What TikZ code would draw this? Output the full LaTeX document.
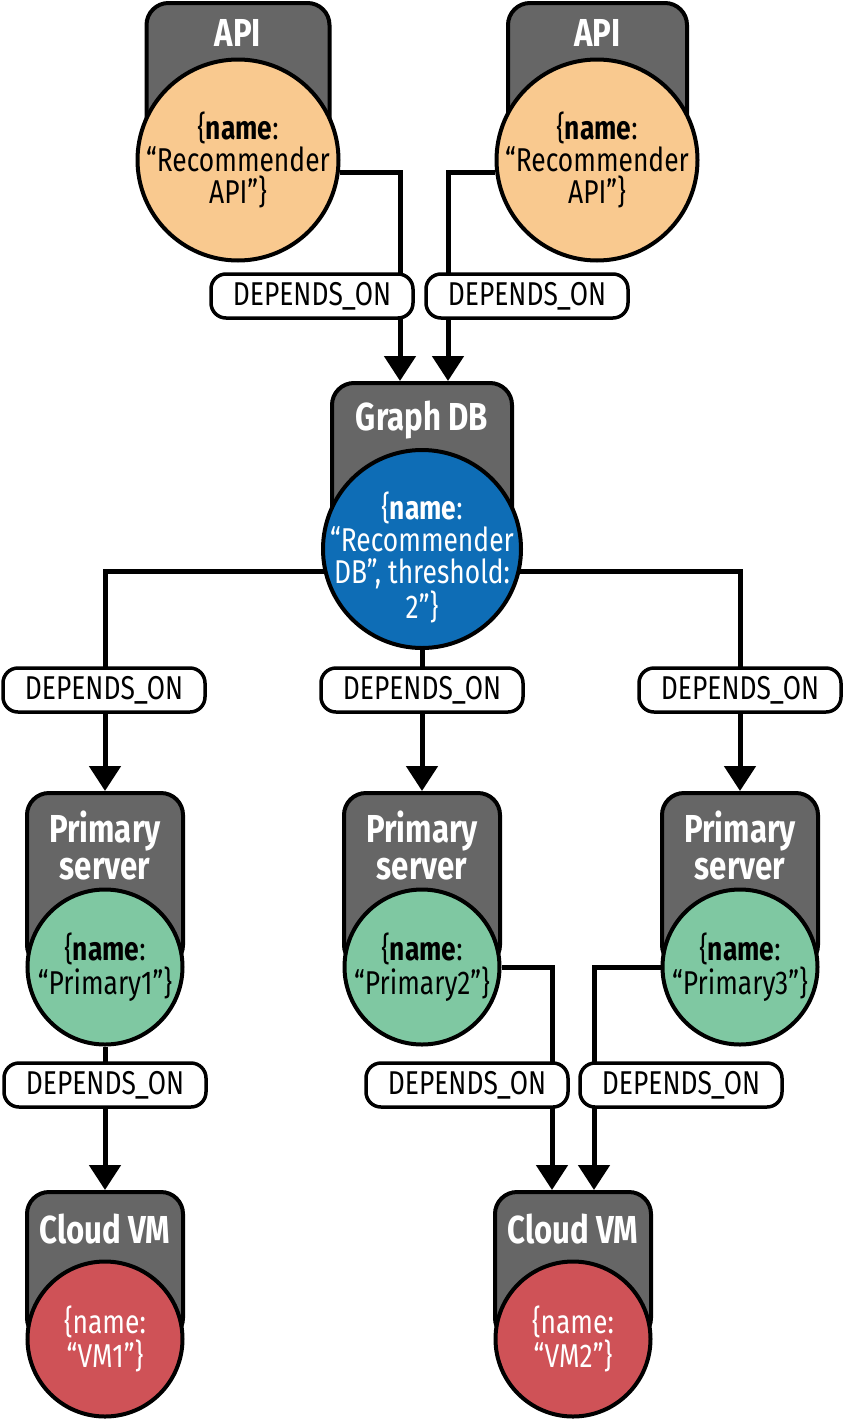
\documentclass[tikz,border=0pt]{standalone}
\usepackage{fontspec}
\setmainfont{Fira Sans}[FakeStretch=0.8]
\usetikzlibrary{arrows.meta,positioning}

\definecolor{boxgray}{HTML}{666666}
\definecolor{apiorange}{HTML}{F9C98F}
\definecolor{dbblue}{HTML}{0E6DB6}
\definecolor{srvgreen}{HTML}{7FC8A2}
\definecolor{vmred}{HTML}{CF5257}

\tikzset{
  kindbox/.style={draw, line width=2pt, fill=boxgray, rounded corners=11pt, inner sep=0pt},
  kindtitle/.style={text=white, align=center, inner sep=0pt, font=\fontsize{19.5pt}{18.5pt}\selectfont\bfseries},
  prop/.style={circle, draw, line width=2pt, inner sep=-10pt, align=center, font=\fontsize{16.5pt}{16pt}\selectfont},
  deplabel/.style={draw, fill=white, line width=1.75pt, rounded corners=7.5pt, minimum width=101pt, minimum height=22pt, inner sep=0pt, font=\fontsize{16.5pt}{16pt}\selectfont},
  dep/.style={line width=2.5pt, -{Triangle[length=12.5pt,width=15.5pt]}}
}

\begin{document}
\begin{tikzpicture}[x=0.5pt, y=-0.5pt]
  \useasboundingbox (0,0) rectangle (843,1419);

  % APIs
  \node[kindbox, minimum width=91.5pt, minimum height=78.5pt] (api1box) at (238,81.5) {};
  \node[kindtitle, anchor=base] (api1title) at (238,46) {API};
  \node[prop, fill=apiorange, minimum size=100.5pt] (api1) at (238,160) {\{\textbf{name}:\\“Recommender\\API”\}};
  \node[kindbox, minimum width=89.5pt, minimum height=78.5pt] (api2box) at (597.5,81.5) {};
  \node[kindtitle, anchor=base] (api2title) at (597.5,46) {API};
  \node[prop, fill=apiorange, minimum size=100.5pt] (api2) at (597,160) {\{\textbf{name}:\\“Recommender\\API”\}};

  % graph db
  \node[kindbox, minimum width=90pt, minimum height=83pt] (gdbbox) at (422,466) {};
  \node[kindtitle, anchor=base] (gdbtitle) at (422,430) {Graph DB};
  \node[prop, fill=dbblue, text=white, minimum size=99pt] (gdb) at (422,549) {\rule{0pt}{22pt}\{\textbf{name}:\\“Recommender\\DB”, threshold:\\2”\}};

  % primary servers
  \node[kindbox, minimum width=78pt, minimum height=87pt] (p1box) at (105,880) {};
  \node[kindtitle] (p1title) at (105,846) {Primary\\server};
  \node[prop, fill=srvgreen, minimum size=77.5pt] (p1) at (105,967) {\{\textbf{name}:\\“Primary1”\}};
  \node[kindbox, minimum width=78pt, minimum height=87pt] (p2box) at (422,880) {};
  \node[kindtitle] (p2title) at (422,846) {Primary\\server};
  \node[prop, fill=srvgreen, minimum size=77.5pt] (p2) at (422,967) {\{\textbf{name}:\\“Primary2”\}};
  \node[kindbox, minimum width=78pt, minimum height=87pt] (p3box) at (740,880) {};
  \node[kindtitle] (p3title) at (740,846) {Primary\\server};
  \node[prop, fill=srvgreen, minimum size=77.5pt] (p3) at (740,967) {\{\textbf{name}:\\“Primary3”\}};

  % cloud vms
  \node[kindbox, minimum width=78pt, minimum height=74pt] (vm1box) at (105,1266) {};
  \node[kindtitle, anchor=base] (vm1title) at (105,1243) {Cloud VM};
  \node[prop, fill=vmred, text=white, minimum size=77.5pt] (vm1) at (105,1339) {\{name:\\“VM1”\}};
  \node[kindbox, minimum width=78pt, minimum height=74pt] (vm2box) at (573,1266) {};
  \node[kindtitle, anchor=base] (vm2title) at (573,1243) {Cloud VM};
  \node[prop, fill=vmred, text=white, minimum size=77.5pt] (vm2) at (573,1339) {\{name:\\“VM2”\}};

  % edges
  \draw[dep] (api1.-7) -| ([xshift=-11pt]gdbbox.north);
  \draw[dep] (api2.187) -| ([xshift=13pt]gdbbox.north);
  \draw[dep] (gdb.193.5) -| (p1box.north);
  \draw[dep] (gdb.south) -- (p2box.north);
  \draw[dep] (gdb.-13.5) -| (p3box.north);
  \draw[dep] (p1.south) -- (vm1box.north);
  \draw[dep] (p2.east) -| ([xshift=-10.5pt]vm2box.north);
  \draw[dep] (p3.west) -| ([xshift=10.5pt]vm2box.north);

  % labels
  \node[deplabel] (l1) at (312,296) {DEPENDS\_ON};
  \node[deplabel] (l2) at (527,296) {DEPENDS\_ON};
  \node[deplabel] (l3) at (104,690) {DEPENDS\_ON};
  \node[deplabel] (l4) at (422,690) {DEPENDS\_ON};
  \node[deplabel] (l5) at (740,690) {DEPENDS\_ON};
  \node[deplabel] (l6) at (105,1085) {DEPENDS\_ON};
  \node[deplabel] (l7) at (467,1085) {DEPENDS\_ON};
  \node[deplabel] (l8) at (681,1085) {DEPENDS\_ON};
\end{tikzpicture}
\end{document}
